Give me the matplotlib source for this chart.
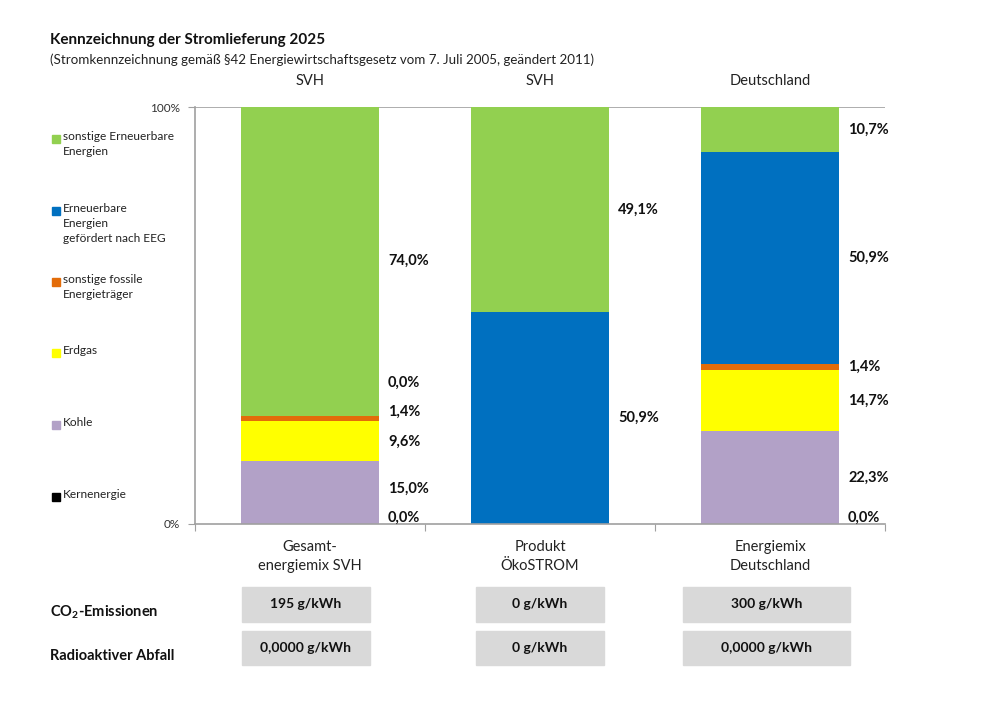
import matplotlib
matplotlib.use("Agg")
import matplotlib.pyplot as plt
from matplotlib.patches import Rectangle
import numpy as np

plt.rcParams['font.family'] = ['Lato', 'DejaVu Sans']
plt.rcParams['mathtext.fontset'] = 'custom'
plt.rcParams['mathtext.rm'] = 'Lato'
plt.rcParams['mathtext.bf'] = 'Lato:bold'

# ---- data ----
categories = ["Gesamt-\nenergiemix SVH", "Produkt\nÖkoSTROM", "Energiemix\nDeutschland"]
top_labels = ["SVH", "SVH", "Deutschland"]
series_names = ["Kernenergie", "Kohle", "Erdgas", "sonstige fossile\nEnergieträger",
                "Erneuerbare\nEnergien\ngefördert nach EEG", "sonstige Erneuerbare\nEnergien"]
series_colors = ["#000000", "#B2A1C7", "#FFFF00", "#E36C09", "#0070C0", "#92D050"]
kernenergie = [0.0, 0.0, 0.0]
kohle = [15.0, 0.0, 22.3]
erdgas = [9.6, 0.0, 14.7]
fossile = [1.4, 0.0, 1.4]
eeg = [0.0, 50.9, 50.9]
sonstige_ee = [74.0, 49.1, 10.7]
show_zero_labels = [True, False, True]
co2_values = ["195 g/kWh", "0 g/kWh", "300 g/kWh"]
abfall_values = ["0,0000 g/kWh", "0 g/kWh", "0,0000 g/kWh"]
row_titles = [r"CO$_\mathbf{2}$-Emissionen", "Radioaktiver Abfall"]

series = [kernenergie, kohle, erdgas, fossile, eeg, sonstige_ee]

W, H = 1000, 721
fig = plt.figure(figsize=(W / 100, H / 100), dpi=100)

def fx(px):
    return px / W

def fy(py):
    return 1 - py / H

ax = fig.add_axes([fx(195), fy(524), fx(885) - fx(195), fy(107) - fy(524)])
x = np.arange(len(categories))
bw = 0.6
bottom = np.zeros(len(categories))
for vals, col in zip(series, series_colors):
    ax.bar(x, vals, bw, bottom=bottom, color=col, edgecolor='none', zorder=2)
    bottom += np.array(vals)

# data labels
for i in range(len(categories)):
    cum = 0.0
    ys = []
    texts = []
    for vals in series:
        v = vals[i]
        if v > 0 or show_zero_labels[i]:
            ys.append(cum + v / 2)
            texts.append(f"{v:.1f}".replace('.', ','))
        cum += v
    prev = None
    for yv, t in zip(ys, texts):
        yy = max(yv, 1.4)
        if prev is not None:
            yy = max(yy, prev + 7.0)
        prev = yy
        ax.annotate(t + "%", (i + bw / 2, yy), xytext=(6.5, 0), textcoords='offset points',
                    ha='left', va='center', fontsize=10.5, fontweight='bold', color='#111111')

ax.set_xlim(-0.5, 2.5)
ax.set_ylim(0, 100)
ax.set_yticks([0, 100])
ax.set_yticklabels(["0%", "100%"], fontsize=8.5, color='#333333')
ax.set_xticks([-0.5, 0.5, 1.5, 2.5])
ax.set_xticklabels([])
ax.tick_params(axis='x', length=5, color='#A0A0A0', direction='out')
ax.tick_params(axis='y', length=5, color='#A0A0A0', direction='out', pad=6)
for s in ['top', 'right']:
    ax.spines[s].set_visible(False)
for s in ['left', 'bottom']:
    ax.spines[s].set_color('#A0A0A0')
    ax.spines[s].set_linewidth(1.2)
ax.axhline(100, color='#A0A0A0', lw=1.2, zorder=1)

for i, c in enumerate(categories):
    ax.text(i, -3.8, c, ha='center', va='top', fontsize=10.5, color='#222222', linespacing=1.5)
    ax.text(i, 104.5, top_labels[i], ha='center', va='bottom', fontsize=10.5, color='#222222')

# title
fig.text(fx(50), fy(40), "Kennzeichnung der Stromlieferung 2025", fontsize=11,
         fontweight='bold', ha='left', va='center', color='#111111')
fig.text(fx(50), fy(60), "(Stromkennzeichnung gemäß §42 Energiewirtschaftsgesetz vom 7. Juli 2005, geändert 2011)",
         fontsize=9.6, ha='left', va='center', color='#222222')

# legend (top to bottom)
leg_y = [139, 211, 282, 353, 425, 497]
for name, col, yy in zip(series_names[::-1], series_colors[::-1], leg_y):
    fig.patches.append(Rectangle((fx(52), fy(yy + 4)), fx(8), fy(0) - fy(8), color=col,
                                 transform=fig.transFigure, figure=fig))
    fig.text(fx(63), fy(yy - 8), name, fontsize=8.6, ha='left', va='top', color='#222222',
             linespacing=1.45)

# bottom boxes
box_x = [(242, 370), (476, 604), (683, 850)]
rows = [(587, 622, co2_values), (631, 665, abfall_values)]
for ri, (y0, y1, vals) in enumerate(rows):
    fig.text(fx(50), fy((y0 + y1) / 2 + 8), row_titles[ri], fontsize=10.5, fontweight='bold',
             ha='left', va='center', color='#111111')
    for (x0, x1), v in zip(box_x, vals):
        fig.patches.append(Rectangle((fx(x0), fy(y1)), fx(x1 - x0), fy(y0) - fy(y1),
                                     color='#D9D9D9', transform=fig.transFigure, figure=fig))
        fig.text(fx((x0 + x1) / 2), fy((y0 + y1) / 2), v, fontsize=10, fontweight='bold',
                 ha='center', va='center', color='#111111')

fig.savefig("out.png", dpi=100, facecolor='white')
